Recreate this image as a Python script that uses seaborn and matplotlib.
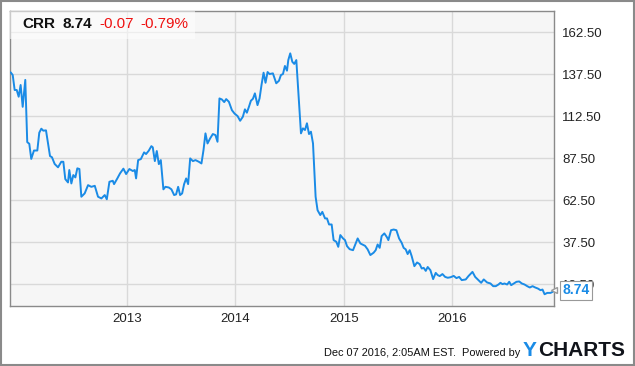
import numpy as np
import pandas as pd
import seaborn as sns
import matplotlib.pyplot as plt
from matplotlib.patches import Rectangle

# Price history of CRR (decimal year, price)
years = [
    2011.926, 2011.945, 2011.963, 2011.982, 2012.000, 2012.018, 2012.037, 2012.061,
    2012.079, 2012.098, 2012.116, 2012.141, 2012.172, 2012.190, 2012.209, 2012.227,
    2012.252, 2012.289, 2012.307, 2012.332, 2012.363, 2012.393, 2012.412, 2012.430,
    2012.455, 2012.467, 2012.486, 2012.504, 2012.523, 2012.541, 2012.560, 2012.578,
    2012.609, 2012.640, 2012.670, 2012.702, 2012.732, 2012.763, 2012.794, 2012.813,
    2012.837, 2012.868, 2012.880, 2012.910, 2012.935, 2012.966, 2012.991, 2013.021,
    2013.053, 2013.071, 2013.083, 2013.102, 2013.127, 2013.157, 2013.175, 2013.200,
    2013.224, 2013.237, 2013.256, 2013.274, 2013.293, 2013.311, 2013.335, 2013.354,
    2013.385, 2013.409, 2013.434, 2013.452, 2013.471, 2013.489, 2013.508, 2013.526,
    2013.545, 2013.563, 2013.582, 2013.607, 2013.631, 2013.662, 2013.686, 2013.705,
    2013.723, 2013.742, 2013.766, 2013.791, 2013.815, 2013.834, 2013.852, 2013.874,
    2013.896, 2013.914, 2013.939, 2013.967, 2013.991, 2014.019, 2014.043, 2014.068,
    2014.087, 2014.105, 2014.124, 2014.142, 2014.161, 2014.179, 2014.203, 2014.222,
    2014.240, 2014.259, 2014.277, 2014.296, 2014.314, 2014.345, 2014.376, 2014.401,
    2014.419, 2014.438, 2014.456, 2014.475, 2014.487, 2014.505, 2014.524, 2014.542,
    2014.561, 2014.604, 2014.622, 2014.641, 2014.659, 2014.678, 2014.696, 2014.715,
    2014.739, 2014.757, 2014.782, 2014.801, 2014.826, 2014.844, 2014.863, 2014.887,
    2014.905, 2014.930, 2014.948, 2014.967, 2014.992, 2015.010, 2015.029, 2015.053,
    2015.084, 2015.108, 2015.127, 2015.152, 2015.195, 2015.219, 2015.244, 2015.274,
    2015.293, 2015.311, 2015.330, 2015.348, 2015.373, 2015.398, 2015.410, 2015.435,
    2015.459, 2015.484, 2015.509, 2015.533, 2015.551, 2015.570, 2015.588, 2015.607,
    2015.625, 2015.650, 2015.675, 2015.699, 2015.718, 2015.736, 2015.755, 2015.773,
    2015.798, 2015.823, 2015.847, 2015.865, 2015.884, 2015.909, 2015.934, 2015.958,
    2015.983, 2016.013, 2016.038, 2016.063, 2016.087, 2016.124, 2016.149, 2016.186,
    2016.211, 2016.241, 2016.266, 2016.290, 2016.321, 2016.352, 2016.377, 2016.401,
    2016.426, 2016.444, 2016.463, 2016.481, 2016.506, 2016.525, 2016.543, 2016.567,
    2016.592, 2016.617, 2016.641, 2016.666, 2016.691, 2016.715, 2016.740, 2016.765,
    2016.789, 2016.814, 2016.832, 2016.851, 2016.876, 2016.906, 2016.925, 2016.938,
]
prices = [
    138.5, 136.9, 128.0, 128.0, 124.0, 131.0, 118.0, 134.0,
    97.0, 96.0, 87.0, 92.0, 92.0, 102.6, 105.0, 103.8,
    104.0, 88.7, 88.0, 84.0, 82.0, 85.3, 85.3, 75.0,
    73.0, 80.4, 72.4, 77.4, 76.0, 81.4, 81.0, 64.5,
    66.5, 71.4, 70.4, 71.0, 64.5, 63.5, 65.5, 63.0,
    73.4, 74.0, 72.0, 75.4, 78.4, 81.2, 78.0, 81.0,
    79.8, 80.4, 75.4, 86.3, 86.9, 90.9, 89.9, 91.9,
    94.6, 93.9, 85.7, 91.7, 83.9, 86.3, 68.9, 70.4,
    70.0, 68.9, 65.5, 65.9, 70.4, 65.5, 66.5, 72.0,
    75.4, 72.0, 87.3, 85.7, 86.3, 85.3, 84.3, 92.3,
    102.2, 96.2, 99.2, 101.8, 101.2, 97.2, 123.0, 122.4,
    120.8, 122.6, 121.0, 116.0, 114.0, 112.5, 109.7, 112.1,
    116.5, 114.5, 118.0, 121.6, 122.8, 126.0, 119.0, 123.0,
    131.0, 138.3, 132.3, 138.7, 137.5, 137.9, 132.0, 133.5,
    136.9, 137.5, 142.3, 139.5, 145.8, 149.8, 144.8, 143.5,
    145.8, 102.2, 105.2, 104.2, 108.2, 101.8, 103.2, 96.2,
    64.5, 56.5, 53.6, 55.5, 51.6, 51.6, 48.0, 48.0,
    38.7, 37.7, 34.7, 41.7, 39.7, 38.7, 35.1, 33.3,
    32.7, 36.7, 39.7, 36.7, 35.3, 33.2, 29.8, 31.2,
    32.7, 36.1, 34.1, 41.1, 42.7, 40.3, 38.7, 44.6,
    45.0, 44.6, 39.7, 37.1, 34.1, 33.2, 30.4, 32.7,
    29.2, 23.2, 25.4, 24.4, 21.8, 22.2, 20.4, 22.7,
    20.8, 15.5, 19.2, 17.9, 17.3, 18.5, 16.8, 16.3,
    16.6, 17.4, 16.1, 16.8, 14.9, 15.3, 17.3, 19.8,
    16.8, 14.9, 13.3, 15.3, 13.5, 12.9, 11.3, 11.3,
    12.3, 13.3, 12.5, 12.9, 12.3, 13.9, 11.9, 12.9,
    13.9, 14.1, 12.9, 12.3, 11.3, 10.5, 11.3, 10.5,
    9.9, 8.9, 9.3, 6.5, 7.3, 7.3, 7.9, 8.74,
]

y_ticks = [12.5, 37.5, 62.5, 87.5, 112.5, 137.5, 162.5]
x_ticks = [2013, 2014, 2015, 2016]
x_labels = ["2013", "2014", "2015", "2016"]

ticker = "CRR"
last_price = "8.74"
change = "-0.07"
change_pct = "-0.79%"
stamp = "Dec 07 2016, 2:05AM EST.  Powered by"

LINE = "#1a8be6"
GRID = "#d9d9d9"

df = pd.DataFrame({"year": years, "price": prices})

sns.set_style("white", {"axes.facecolor": "#f6f6f6"})
plt.rcParams["font.family"] = ["Liberation Sans", "DejaVu Sans"]

fig = plt.figure(figsize=(6.35, 3.66), dpi=100)
ax = fig.add_axes([10 / 635, 1 - 306 / 366, 544 / 635, 295 / 366])

sns.lineplot(data=df, x="year", y="price", ax=ax, color=LINE, linewidth=1.4, zorder=3)

ax.set_xlim(df["year"].iloc[0] - 0.006, df["year"].iloc[-1])
ax.set_ylim(-0.5, 175)
ax.set_xticks(x_ticks)
ax.set_xticklabels(x_labels)
ax.set_yticks(y_ticks)
ax.set_yticklabels([f"{v:.2f}" for v in y_ticks])
ax.yaxis.tick_right()
ax.tick_params(axis="both", length=0, labelsize=9.5, colors="#222222")
ax.tick_params(axis="y", pad=6)
ax.tick_params(axis="x", pad=5)
ax.grid(True, color=GRID, linewidth=1.0)
ax.set_axisbelow(True)
ax.set_xlabel("")
ax.set_ylabel("")
for s in ax.spines.values():
    s.set_color("#8a8a8a")
    s.set_linewidth(1.0)

# header box with ticker and change
ax.add_patch(Rectangle((0, 0.905), 0.34, 0.095, transform=ax.transAxes,
                       facecolor="white", alpha=0.55, edgecolor="none", zorder=4))
hdr_y = 0.955
ax.text(0.022, hdr_y, ticker, transform=ax.transAxes, fontsize=11, fontweight="bold",
        color="#111111", va="center", zorder=5)
ax.text(0.096, hdr_y, last_price, transform=ax.transAxes, fontsize=11, fontweight="bold",
        color="#111111", va="center", zorder=5)
ax.text(0.164, hdr_y, change, transform=ax.transAxes, fontsize=11,
        color="#ee1111", va="center", zorder=5)
ax.text(0.240, hdr_y, change_pct, transform=ax.transAxes, fontsize=11,
        color="#ee1111", va="center", zorder=5)

# last value flag on the right axis (sits over the lowest tick label, as in the original)
last_y = df["price"].iloc[-1]
ax.annotate(last_price, xy=(1.0, last_y), xycoords=("axes fraction", "data"),
            xytext=(6, 0), textcoords="offset points", fontsize=10, fontweight="bold",
            color=LINE, va="center", ha="left", zorder=6, annotation_clip=False,
            bbox=dict(boxstyle="square,pad=0.15", facecolor="white", edgecolor="#999999", lw=0.8))
ax.plot([1.0], [last_y], transform=ax.get_yaxis_transform(), marker="<", markersize=5,
        markerfacecolor="white", markeredgecolor="#999999", clip_on=False, zorder=7)

# footer
fig.text(520 / 635, 1 - 353 / 366, stamp, fontsize=7.9, color="#111111", ha="right", va="center")
fig.text(523 / 635, 1 - 351 / 366, "Y", fontsize=15, fontweight="bold", color="#1a8be6",
         ha="left", va="center")
fig.text(538 / 635, 1 - 351 / 366, "CHARTS", fontsize=15, fontweight="bold", color="#10131a",
         ha="left", va="center")

# outer frame
fig.patches.append(Rectangle((0.0008, 0.0014), 0.9984, 0.9972, transform=fig.transFigure,
                             fill=False, edgecolor="#8a8a8a", linewidth=1.5))

fig.savefig("out.png", dpi=100)
